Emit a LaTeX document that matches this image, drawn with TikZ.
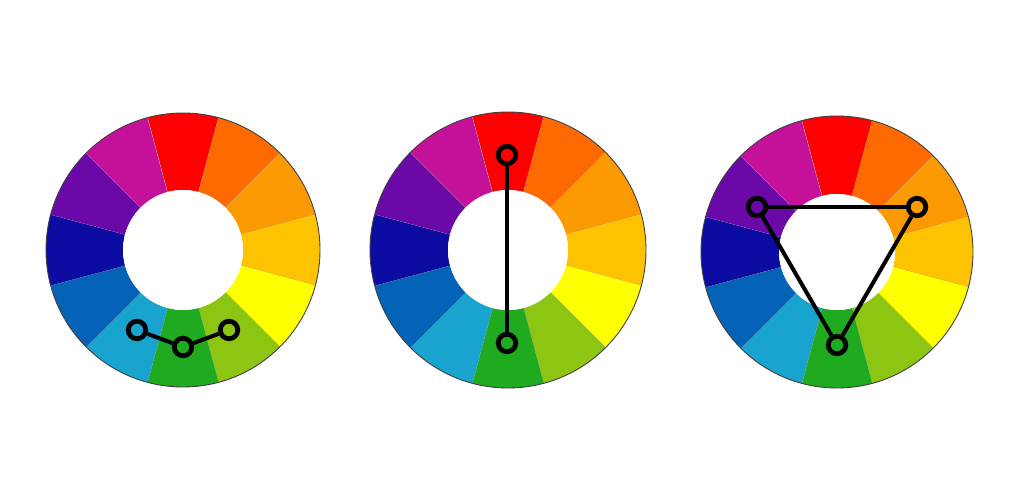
\documentclass[tikz,border=0pt]{standalone}
\definecolor{cR}{HTML}{FF0000}
\definecolor{cRO}{HTML}{FF6A00}
\definecolor{cO}{HTML}{FB9A00}
\definecolor{cYO}{HTML}{FDC200}
\definecolor{cY}{HTML}{FFFF00}
\definecolor{cYG}{HTML}{8DC513}
\definecolor{cG}{HTML}{1FAA1F}
\definecolor{cBG}{HTML}{19A4D0}
\definecolor{cB}{HTML}{0563B7}
\definecolor{cBV}{HTML}{0C0CA2}
\definecolor{cV}{HTML}{6A08A8}
\definecolor{cRV}{HTML}{C5119A}
\newcommand\cwheel[4]{%
  \begin{scope}[shift={(#1,#2)}]
    \foreach \c [count=\i from 0] in {cR,cRO,cO,cYO,cY,cYG,cG,cBG,cB,cBV,cV,cRV}{
      \pgfmathsetmacro\a{75-30*\i}
      \fill[\c] (\a:#3) arc[start angle=\a, delta angle=30, radius=#3]
        -- ({\a+30}:#4) arc[start angle={\a+30}, delta angle=-30, radius=#4] -- cycle;
      \draw[sepline] (\a:#4) -- (\a:#3);
    }
    \draw[rimline] (0,0) circle[radius=#3];
    \fill[white] (0,0) circle[radius=#4];
  \end{scope}}
\begin{document}
\begin{tikzpicture}[x=1pt,y=1pt,
  sepline/.style={draw=black!35, line width=0.4pt},
  rimline/.style={draw=black!75, line width=0.9pt},
  marker/.style={circle, draw=black, line width=4.8pt, minimum size=17.5pt, inner sep=0pt},
  link/.style={draw=black, line width=4pt}]
\useasboundingbox (0,0) rectangle (1024,485);
\fill[white] (0,0) rectangle (1024,485);
\cwheel{183}{235}{137}{60}
\cwheel{508}{235}{138}{60}
\cwheel{837}{233}{136}{58}
% wheel 1: analogous
\node[marker] (a1) at (137,155) {};
\node[marker] (a2) at (183,138) {};
\node[marker] (a3) at (229,155) {};
\draw[link] (a1) -- (a2);
\draw[link] (a2) -- (a3);
% wheel 2: complementary
\node[marker] (b1) at (507,330) {};
\node[marker] (b2) at (507,142) {};
\draw[link] (b1) -- (b2);
% wheel 3: triad
\node[marker] (c1) at (757,278) {};
\node[marker] (c2) at (917,278) {};
\node[marker] (c3) at (837,140) {};
\draw[link] (c1) -- (c2);
\draw[link] (c2) -- (c3);
\draw[link] (c3) -- (c1);
\end{tikzpicture}
\end{document}
